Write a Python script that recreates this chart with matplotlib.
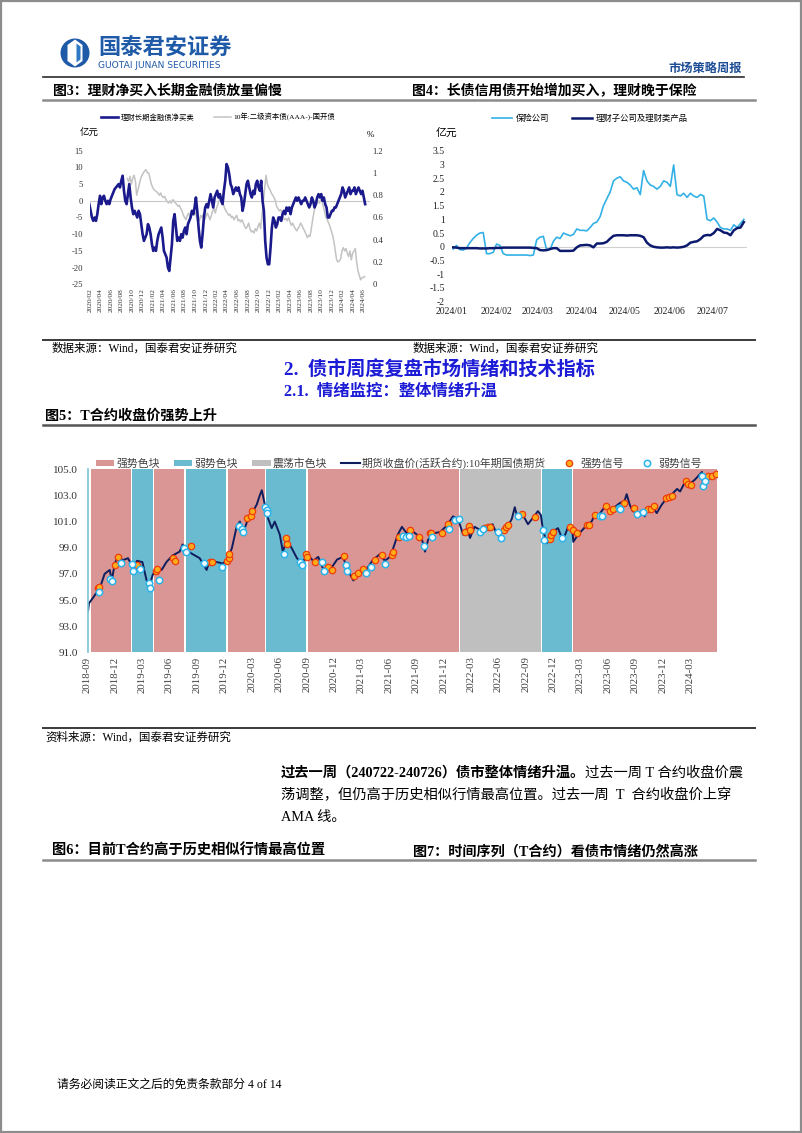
import pandas as pd
import matplotlib
matplotlib.use('Agg')
from matplotlib import pyplot as plt
from matplotlib.patches import Patch, Rectangle, Circle, Polygon
from matplotlib.lines import Line2D
from matplotlib.ticker import FuncFormatter, MultipleLocator

W, H = 802, 1133
SERIF_CJK = ['Liberation Serif', 'Noto Sans CJK SC']
plt.rcParams['font.family'] = SERIF_CJK
plt.rcParams['axes.unicode_minus'] = False

# ---------- fig 3: 理财长期金融债净买卖 (亿元, weekly) / 二级资本债-国开债 (%) ----------
fin_bond_net = [
    -1, -3, -5, -6, -5, -6, -4, -1, 1.5, -1, 1, 1.5, 0, -1, 0, -1, 0.5, 1.5, 2.5, 3.5,
    4, 4.5, 5, 4, 6, 7.5, 3, 0, -1, 2, 5, 1, -2, -4, -3, -4, -5, -3, -4, -7,
    -10, -12, -11, -10, -7, -8, -10, -13, -15, -14, -15, -12, -10, -9, -8, -11, -15, -16, -17, -20,
    -21, -17, -13, -6, -4, -8, -12, -11, -12, -10, -11, -9, -8, -10, -7, -6, -5, -3, -4, -2,
    1, -3, -8, -12, -14, -10, -5, -2, -1, -2, 0, 2, 0, -2, 1, 2, 3, 1, 2, 0,
    -1, 3, 6, 11, 10, 8, 5, 4, 2, 3, 4, 3, 4, 2, 1, -3, -1, 2, 5, 6,
    4, 2, 1, 3, 2, 5, 6, 4, 3, 6, 0, -3, -12, -17, -19, -19, -14, -8, -5, -6,
    -8, -7, -5, -5, -6, -4, -3, -4, -2, -3, -2, -4, -2, -1, 0, 1, 0, 1, 0, -1,
    0, 0, 1, 0, -1, -2, -1, 1, 0, -2, -1, 1, 2, 1, 2, 0, 1, -1, -2, -5,
    -5, -4, -3, -3, -2, -2, -1, 0, 1, 2, 4, 3, 1, 2, 3, 4, 2, 3, 3, 4,
    2, 3, 4, 3, 2, 3, 1, -1,
]
tier2_spread = [
    0.95, 0.92, 0.97, 0.9, 0.95, 0.98, 0.93, 0.8, 0.85, 0.9, 0.95, 0.98, 1.0, 1.02, 1.03, 1.0,
    1.0, 0.95, 0.9, 0.87, 0.85, 0.84, 0.83, 0.82, 0.8, 0.82, 0.79, 0.78, 0.79, 0.76, 0.74, 0.73,
    0.75, 0.73, 0.76, 0.75, 0.73, 0.72, 0.7, 0.71, 0.68, 0.66, 0.62, 0.6, 0.58, 0.62, 0.64, 0.6,
    0.62, 0.66, 0.62, 0.65, 0.6, 0.56, 0.57, 0.62, 0.6, 0.63, 0.58, 0.61, 0.64, 0.61, 0.58, 0.62,
    0.66, 0.68, 0.64, 0.69, 0.72, 0.76, 0.8, 0.77, 0.72, 0.68, 0.66, 0.64, 0.62, 0.63, 0.6, 0.61,
    0.58, 0.6, 0.62, 0.57, 0.58, 0.56, 0.58, 0.55, 0.52, 0.5, 0.52, 0.55, 0.5, 0.47, 0.48, 0.46,
    0.5, 0.48, 0.52, 0.55, 0.5, 0.62, 0.75, 0.85, 0.98, 0.9, 0.87, 0.85, 0.82, 0.8, 0.78, 0.75,
    0.7, 0.68, 0.66, 0.67, 0.64, 0.6, 0.58, 0.59, 0.57, 0.6, 0.56, 0.53, 0.55, 0.52, 0.5, 0.48,
    0.5, 0.52, 0.55, 0.53, 0.5, 0.48, 0.45, 0.42, 0.44, 0.43, 0.5, 0.58, 0.65, 0.7, 0.72, 0.75,
    0.73, 0.76, 0.74, 0.7, 0.65, 0.6, 0.58, 0.55, 0.52, 0.48, 0.44, 0.38, 0.3, 0.22, 0.2, 0.21,
    0.23, 0.3, 0.33, 0.3, 0.32, 0.28, 0.25, 0.3, 0.22, 0.28, 0.3, 0.32, 0.2, 0.12, 0.08, 0.04,
    0.06, 0.06, 0.07,
]
fin_bond_span = ('2020-01-28', '2024-06-10')
tier2_span = ('2020-09-04', '2024-06-07')

# ---------- fig 4: 长债信用债净买入 (亿元) ----------
insurance = [
    -0.08, 0.05, -0.1, -0.12, -0.05, 0.15, 0.3, 0.42, 0.5, 0.52,
    -0.25, -0.25, -0.2, 0.1, 0.05, -0.25, -0.3, -0.3, -0.3, -0.3,
    -0.3, -0.3, -0.3, -0.32, -0.3, 0.25, 0.35, 0.38, -0.12, -0.1,
    0.2, 0.35, 0.3, 0.5, 0.45, 0.4, 0.45, 0.65, 0.6, 0.6,
    0.58, 0.7, 0.85, 0.9, 1.1, 1.5, 1.75, 2.0, 2.4, 2.5,
    2.55, 2.4, 2.35, 2.25, 2.1, 2.15, 1.9,
    2.78, 2.4, 2.25, 2.2, 2.1, 2.2, 2.4, 2.35, 2.2, 2.98,
    1.9, 1.85, 1.95, 1.8, 1.95, 1.85, 1.8, 1.9, 1.85, 1.0,
    0.95, 1.05, 0.9, 0.7, 0.65, 0.65, 0.6, 0.8, 0.7, 0.85, 1.0,
]
wm_products = [
    -0.02, -0.03, -0.05, -0.05, -0.05, -0.05, -0.05, -0.05, -0.06, -0.06,
    -0.06, -0.05, -0.05, -0.04, -0.04, -0.03, -0.03, -0.03, -0.03, -0.03,
    -0.03, -0.03, -0.03, -0.03, -0.04, -0.05, -0.12, -0.13, -0.12, -0.08,
    -0.05, -0.05, -0.15, -0.15, -0.15, -0.15, -0.14, -0.02, 0.05, 0.06,
    0.07, 0.05, -0.02, 0.12, 0.12, 0.13, 0.18, 0.3, 0.4, 0.42,
    0.42, 0.42, 0.41, 0.42, 0.42, 0.42, 0.4,
    0.35, 0.15, 0.05, 0.0, -0.02, -0.03, -0.03, -0.02, -0.03, -0.02,
    -0.03, -0.02, 0.0, 0.05, 0.15, 0.18, 0.2, 0.28, 0.4, 0.43,
    0.42, 0.5, 0.65, 0.6, 0.52, 0.5, 0.42, 0.6, 0.68, 0.7, 0.9,
]
credit_span = ('2024-01-02', '2024-07-23')

# ---------- fig 5: T 合约收盘价 ----------
t_dates = [
    '2018-09-03', '2018-09-06', '2018-10-12', '2018-10-28', '2018-11-14', '2018-11-21', '2018-12-01',
    '2018-12-11', '2018-12-28', '2019-01-14', '2019-01-31', '2019-02-13', '2019-03-03', '2019-03-17',
    '2019-03-27', '2019-04-06', '2019-04-19', '2019-05-06', '2019-05-22', '2019-06-11', '2019-07-05',
    '2019-07-15', '2019-07-28', '2019-08-18', '2019-09-10', '2019-10-03', '2019-10-13', '2019-11-06',
    '2019-11-26', '2019-12-09', '2019-12-26', '2020-01-12', '2020-01-22', '2020-02-01', '2020-02-15',
    '2020-03-01', '2020-03-18', '2020-03-28', '2020-04-04', '2020-04-14', '2020-04-24', '2020-05-07',
    '2020-05-17', '2020-06-03', '2020-06-13', '2020-06-26', '2020-07-13', '2020-07-30', '2020-08-16',
    '2020-09-02', '2020-09-22', '2020-10-09', '2020-10-25', '2020-11-17', '2020-12-11', '2020-12-31',
    '2021-01-13', '2021-02-03', '2021-02-26', '2021-03-20', '2021-04-09', '2021-05-02', '2021-05-19',
    '2021-06-05', '2021-06-15', '2021-07-01', '2021-07-15', '2021-07-31', '2021-08-17', '2021-09-03',
    '2021-09-20', '2021-09-30', '2021-10-10', '2021-10-26', '2021-11-19', '2021-12-12', '2022-01-01',
    '2022-01-18', '2022-02-04', '2022-02-17', '2022-02-27', '2022-03-14', '2022-04-07', '2022-04-27',
    '2022-05-13', '2022-05-26', '2022-06-12', '2022-06-29', '2022-07-16', '2022-07-26', '2022-08-05',
    '2022-08-22', '2022-09-08', '2022-09-25', '2022-10-11', '2022-10-21', '2022-10-28', '2022-11-10',
    '2022-11-20', '2022-12-07', '2022-12-17', '2022-12-30', '2023-01-10', '2023-01-20', '2023-02-03',
    '2023-02-06', '2023-02-22', '2023-03-06', '2023-03-22', '2023-04-08', '2023-04-18', '2023-05-05',
    '2023-05-21', '2023-06-07', '2023-06-24', '2023-07-10', '2023-07-27', '2023-08-03', '2023-08-13',
    '2023-08-23', '2023-09-09', '2023-09-26', '2023-10-02', '2023-10-12', '2023-10-29', '2023-11-11',
    '2023-11-28', '2023-12-15', '2024-01-01', '2024-01-18', '2024-01-28', '2024-02-14', '2024-03-01',
    '2024-03-17', '2024-03-27', '2024-04-10', '2024-04-13', '2024-04-27', '2024-05-13', '2024-05-29',
]
t_close = [
    94.2, 94.75, 95.9, 97.0, 97.3, 96.5, 97.8,
    98.3, 98.05, 98.2, 97.45, 98.0, 97.9, 96.5,
    96.15, 96.9, 97.45, 97.3, 97.9, 98.4, 98.7,
    99.25, 98.8, 98.5, 98.2, 97.3, 98.0, 97.9,
    97.8, 98.0, 98.95, 100.7, 101.0, 100.1, 101.0,
    101.6, 102.3, 103.0, 103.4, 102.3, 101.3, 100.5,
    101.0, 100.0, 98.7, 99.6, 98.95, 98.2, 97.8,
    98.5, 98.0, 98.3, 97.4, 97.3, 98.1, 98.3,
    97.4, 96.5, 97.2, 97.4, 98.05, 98.5, 98.0,
    98.3, 98.9, 100.0, 100.6, 100.1, 100.3, 100.0,
    99.6, 98.7, 99.6, 100.1, 100.2, 100.7, 101.4,
    101.2, 100.0, 100.5, 99.75, 100.6, 100.3, 100.6,
    100.8, 100.1, 100.1, 100.5, 101.2, 102.1, 101.2,
    101.5, 100.8, 101.3, 101.8, 101.5, 100.35, 99.35,
    99.85, 100.35, 100.5, 99.75, 100.0, 100.6, 100.35,
    99.45, 100.0, 100.3, 100.7, 101.0, 101.5, 101.6,
    102.1, 101.85, 102.1, 102.4, 102.6, 103.1, 102.3,
    101.8, 101.7, 101.8, 101.4, 101.9, 102.1, 101.65,
    102.3, 102.8, 103.1, 103.5, 103.3, 104.05, 103.9,
    104.2, 104.45, 104.8, 103.9, 104.45, 104.6, 104.7,
]
strong_dates = [
    '2018-10-06', '2018-10-10', '2018-12-01', '2018-12-12', '2019-02-12', '2019-04-16', '2019-04-20',
    '2019-06-12', '2019-06-20', '2019-08-11', '2019-10-15', '2019-10-22', '2019-12-10', '2019-12-15',
    '2019-12-18', '2020-02-15', '2020-02-29', '2020-03-03', '2020-06-25', '2020-06-26', '2020-08-29',
    '2020-09-01', '2020-09-28', '2020-11-11', '2020-11-24', '2021-01-03', '2021-02-06', '2021-02-17',
    '2021-03-07', '2021-04-15', '2021-05-10', '2021-06-13', '2021-06-15', '2021-07-05', '2021-08-12',
    '2021-09-10', '2021-10-16', '2021-10-21', '2021-11-26', '2021-12-16', '2022-02-11', '2022-02-25',
    '2022-02-27', '2022-04-14', '2022-04-27', '2022-05-06', '2022-06-20', '2022-06-28', '2022-07-03',
    '2022-08-20', '2022-10-01', '2022-11-20', '2022-11-25', '2022-12-01', '2023-01-26', '2023-02-04',
    '2023-02-17', '2023-03-24', '2023-04-01', '2023-04-21', '2023-05-26', '2023-06-09', '2023-06-20',
    '2023-07-26', '2023-08-27', '2023-10-13', '2023-10-22', '2023-11-02', '2023-12-11', '2023-12-21',
    '2024-01-01', '2024-02-17', '2024-02-22', '2024-03-06', '2024-05-01', '2024-05-15', '2024-05-26',
]
strong_vals = [
    95.95, 96.0, 97.7, 98.3, 97.7, 97.2, 97.4,
    98.2, 98.0, 99.15, 97.9, 97.9, 98.0, 98.25,
    98.5, 101.25, 101.4, 101.8, 99.75, 99.25, 98.5,
    98.3, 97.9, 97.5, 97.3, 98.35, 96.85, 97.1,
    97.35, 98.05, 98.45, 98.45, 98.65, 99.85, 100.35,
    99.85, 100.1, 100.15, 100.15, 100.8, 100.2, 100.65,
    100.35, 100.5, 100.6, 100.6, 100.35, 100.6, 100.75,
    101.55, 101.35, 99.7, 99.95, 100.2, 100.55, 100.35,
    100.15, 100.75, 100.75, 101.5, 102.2, 101.8, 101.95,
    102.45, 102.05, 101.95, 102.0, 102.2, 102.8, 102.85,
    102.95, 104.1, 103.9, 103.8, 104.45, 104.5, 104.65,
]
weak_dates = [
    '2018-10-10', '2018-11-14', '2018-11-22', '2018-12-20', '2019-01-26', '2019-01-29', '2019-02-23',
    '2019-03-26', '2019-03-28', '2019-04-27', '2019-07-18', '2019-07-25', '2019-09-24', '2019-11-24',
    '2020-01-19', '2020-01-30', '2020-01-31', '2020-04-14', '2020-04-20', '2020-04-22', '2020-06-16',
    '2020-08-09', '2020-08-15', '2020-10-21', '2020-10-28', '2021-01-10', '2021-01-14', '2021-03-18',
    '2021-04-04', '2021-05-18', '2021-07-18', '2021-07-27', '2021-08-08', '2021-09-26', '2021-10-24',
    '2021-12-20', '2022-01-08', '2022-01-22', '2022-03-31', '2022-04-10', '2022-06-01', '2022-06-10',
    '2022-08-06', '2022-10-27', '2022-11-01', '2022-12-29', '2023-05-05', '2023-05-14', '2023-07-08',
    '2023-07-13', '2023-09-07', '2023-09-25', '2024-04-11', '2024-04-14', '2024-04-20',
]
weak_vals = [
    95.65, 96.6, 96.45, 97.8, 97.75, 97.2, 97.4,
    96.3, 95.9, 96.55, 98.95, 98.65, 97.8, 97.55,
    100.7, 100.45, 100.2, 102.15, 101.9, 101.65, 98.55,
    97.9, 97.7, 97.9, 97.2, 97.7, 97.2, 97.1,
    97.55, 97.75, 99.9, 99.85, 99.9, 99.15, 99.85,
    100.45, 101.1, 101.2, 100.2, 100.45, 100.2, 99.75,
    101.4, 100.35, 99.6, 99.75, 101.4, 101.45, 102.05,
    102.0, 101.55, 101.75, 104.45, 103.75, 104.1,
]
block_kind = ['strong', 'weak', 'strong', 'weak', 'strong', 'weak', 'strong', 'range', 'weak', 'strong']
block_start = ['2018-09-12', '2019-01-28', '2019-04-12', '2019-07-25', '2019-12-13',
               '2020-04-17', '2020-09-04', '2022-01-25', '2022-10-24', '2023-02-06']
block_end = ['2019-01-24', '2019-04-07', '2019-07-21', '2019-12-08', '2020-04-14',
             '2020-08-29', '2022-01-21', '2022-10-20', '2023-02-01', '2024-05-29']
t_ticks = pd.date_range('2018-09-01', '2024-03-01', freq='3MS')
t_yticks = [91, 93, 95, 97, 99, 101, 103, 105]

C_BLOCK = {'strong': '#d99694', 'weak': '#6bbbd0', 'range': '#bfbfbf'}
C_T = '#0f1d5e'
TITLE_BLUE = '#1c1cd6'
LOGO_BLUE = '#1f5aa8'

gfmt = FuncFormatter(lambda v, p: f'{v:g}')

fig = plt.figure(figsize=(W / 100, H / 100), dpi=100)
page = fig.add_axes([0, 0, 1, 1])
page.set_xlim(0, W)
page.set_ylim(H, 0)
page.axis('off')


def box(x0, y0, x1, y1):
    return fig.add_axes([x0 / W, 1 - y1 / H, (x1 - x0) / W, (y1 - y0) / H])


def bare(ax):
    for s in ax.spines.values():
        s.set_visible(False)
    ax.tick_params(length=0)


# ---------- page furniture ----------
page.add_patch(Rectangle((1, 1), W - 2.5, H - 2.5, fill=False, ec='#8c8c8c', lw=1.6))
page.add_patch(Circle((75, 53), 14.5, fc=LOGO_BLUE, ec='none'))
page.add_patch(Polygon([(75, 39.5), (82.5, 45), (82.5, 61), (75, 66.5), (67.5, 61), (67.5, 45)],
                       fc='white', ec='none'))
page.add_patch(Polygon([(76.5, 43.5), (80.5, 46.5), (80.5, 59.5), (76.5, 62.5)], fc='#2f78c4', ec='none'))
page.text(98, 48, '国泰君安证券', fontsize=16, fontweight='bold', color=LOGO_BLUE,
          family=['Noto Sans CJK SC'], va='center', ha='left')
page.text(98, 65, 'GUOTAI JUNAN SECURITIES', fontsize=6.6, color=LOGO_BLUE,
          family=['DejaVu Sans'], va='center', ha='left')
page.text(742, 69, '市场策略周报', fontsize=8.8, fontweight='bold', color='#1f4e96', va='center', ha='right')
page.plot([43, 744], [77, 77], color='#2b2b2b', lw=1.2)

page.text(53, 91, '图3：理财净买入长期金融债放量偏慢', fontsize=10, fontweight='bold', va='center')
page.text(412, 91, '图4：长债信用债开始增加买入，理财晚于保险', fontsize=10, fontweight='bold', va='center')
page.plot([43, 755], [100, 100], color='#8c8c8c', lw=1.8)

page.plot([43, 755], [340, 340], color='#3a3a3a', lw=1.4)
page.text(52, 349, '数据来源：Wind，国泰君安证券研究', fontsize=8.3, va='center')
page.text(413, 349, '数据来源：Wind，国泰君安证券研究', fontsize=8.3, va='center')

page.text(284, 370, '2.  债市周度复盘市场情绪和技术指标', fontsize=13.8, fontweight='bold',
          color=TITLE_BLUE, va='center')
page.text(284, 392, '2.1.  情绪监控：整体情绪升温', fontsize=11.8, fontweight='bold',
          color=TITLE_BLUE, va='center')

page.text(45, 416, '图5：T合约收盘价强势上升', fontsize=10.2, fontweight='bold', va='center')
page.plot([43, 755], [425, 425], color='#555555', lw=1.8)

page.plot([43, 755], [728, 728], color='#3a3a3a', lw=1.4)
page.text(45, 738, '资料来源：Wind，国泰君安证券研究', fontsize=8.3, va='center')

r = fig.canvas.get_renderer()
t1 = page.text(281, 773, '过去一周（240722-240726）债市整体情绪升温。', fontsize=10.3,
               fontweight='bold', va='center')
x_next = t1.get_window_extent(renderer=r).x1
page.text(x_next, 773, '过去一周 T 合约收盘价震', fontsize=10.3, va='center')
page.text(281, 795.5, '荡调整，但仍高于历史相似行情最高位置。过去一周  T  合约收盘价上穿', fontsize=10.3, va='center')
page.text(281, 818, 'AMA 线。', fontsize=10.3, va='center')

page.text(52, 851, '图6：目前T合约高于历史相似行情最高位置', fontsize=10.3, fontweight='bold', va='center')
page.text(413, 851, '图7：时间序列（T合约）看债市情绪仍然高涨', fontsize=10.2, fontweight='bold', va='center')
page.plot([43, 755], [860, 860], color='#8c8c8c', lw=1.8)

page.text(57, 1085, '请务必阅读正文之后的免责条款部分 4 of 14', fontsize=8.5, va='center')

# ---------- fig 3 ----------
ax3 = box(90, 150.7, 370, 284.3)
ax3r = ax3.twinx()
ax3.set_zorder(ax3r.get_zorder() + 1)
ax3.patch.set_visible(False)
d_fin = pd.date_range(*fin_bond_span, periods=len(fin_bond_net))
d_t2 = pd.date_range(*tier2_span, periods=len(tier2_spread))
ax3.axhline(0, color='#c8c8c8', lw=0.8, zorder=1)
l_fin, = ax3.plot(d_fin, fin_bond_net, color='#1a1a8c', lw=1.9, zorder=3)
l_t2, = ax3r.plot(d_t2, tier2_spread, color='#c3c3c3', lw=1.1)
ax3.set_ylim(-25, 15)
ax3.yaxis.set_major_locator(MultipleLocator(5))
ax3r.set_ylim(0, 1.2)
ax3r.yaxis.set_major_locator(MultipleLocator(0.2))
ax3r.yaxis.set_major_formatter(gfmt)
ax3.set_xlim(pd.Timestamp('2020-02-01'), pd.Timestamp('2024-07-08'))
ticks3 = pd.date_range('2020-02-01', '2024-06-01', freq='2MS')
ax3.set_xticks(ticks3)
ax3.set_xticklabels([d.strftime('%Y/%m') for d in ticks3], rotation=90, fontsize=5.3, color='#333333')
for a in (ax3, ax3r):
    bare(a)
ax3.tick_params(axis='y', labelsize=6.2, colors='#333333', pad=5)
ax3.tick_params(axis='x', pad=2.5)
ax3r.tick_params(axis='y', labelsize=6.2, colors='#333333', pad=2)
ax3.legend([l_fin, l_t2], ['理财长期金融债净买卖', '10年:二级资本债(AAA-)-国开债'],
           loc='center', bbox_to_anchor=(218 / W, 1 - 117 / H), bbox_transform=fig.transFigure,
           ncol=2, frameon=False, fontsize=5.3, handlelength=2.4, handletextpad=0.3, columnspacing=2.6)
page.text(80, 133, '亿元', fontsize=6.8, va='center')
page.text(367, 135, '%', fontsize=6.5, va='center')

# ---------- fig 4 ----------
ax4 = box(451.7, 150.7, 746.7, 301.7)
d_credit = pd.date_range(*credit_span, periods=len(insurance))
ax4.axhline(0, color='#d0d0d0', lw=0.8)
l_ins, = ax4.plot(d_credit, insurance, color='#33b1e6', lw=1.2)
l_wm, = ax4.plot(pd.date_range(*credit_span, periods=len(wm_products)), wm_products, color='#0c1a6e', lw=1.8)
ax4.set_ylim(-2, 3.5)
ax4.yaxis.set_major_locator(MultipleLocator(0.5))
ax4.yaxis.set_major_formatter(gfmt)
ax4.set_xlim(pd.Timestamp('2024-01-01'), pd.Timestamp('2024-07-25'))
ticks4 = pd.date_range('2024-01-01', '2024-07-01', freq='MS')
ax4.set_xticks(ticks4)
ax4.set_xticklabels([d.strftime('%Y/%m') for d in ticks4], fontsize=7, color='#222222')
bare(ax4)
ax4.tick_params(axis='y', labelsize=7, colors='#222222', pad=5)
ax4.tick_params(axis='x', pad=4)
ax4.legend([l_ins, l_wm], ['保险公司', '理财子公司及理财类产品'],
           loc='center', bbox_to_anchor=(590 / W, 1 - 119 / H), bbox_transform=fig.transFigure,
           ncol=2, frameon=False, fontsize=6, handlelength=2.4, handletextpad=0.4, columnspacing=2.8)
page.text(436, 133, '亿元', fontsize=7.8, va='center')

# ---------- fig 5 ----------
ax5 = box(87.5, 469.3, 716.7, 652.3)
for s, e, k in zip(block_start, block_end, block_kind):
    ax5.axvspan(pd.Timestamp(s), pd.Timestamp(e), color=C_BLOCK[k], lw=0, zorder=0)
ax5.plot(pd.to_datetime(t_dates), t_close, color=C_T, lw=1.4, zorder=2)
ax5.plot(pd.to_datetime(strong_dates), strong_vals, ls='none', marker='o', ms=4.6,
         mfc='#ffab1a', mec='#f03c0a', mew=0.9, zorder=3)
ax5.plot(pd.to_datetime(weak_dates), weak_vals, ls='none', marker='o', ms=4.6,
         mfc='#f2fbff', mec='#2cb3ea', mew=1.1, zorder=3)
ax5.set_ylim(91, 105)
ax5.set_yticks(t_yticks)
ax5.yaxis.set_major_formatter(FuncFormatter(lambda v, p: f'{v:.1f}'))
ax5.set_xlim(pd.Timestamp('2018-09-01'), pd.Timestamp('2024-05-29'))
ax5.set_xticks(t_ticks)
ax5.set_xticklabels([d.strftime('%Y-%m') for d in t_ticks], rotation=90, fontsize=7.8, color='#404040')
bare(ax5)
ax5.spines['left'].set_visible(True)
ax5.spines['left'].set_color('#7cc4d8')
ax5.spines['left'].set_linewidth(1.2)
ax5.tick_params(axis='y', labelsize=8, colors='#333333', pad=7)
ax5.tick_params(axis='x', pad=3)
h5 = [Patch(fc=C_BLOCK['strong']), Patch(fc=C_BLOCK['weak']), Patch(fc=C_BLOCK['range']),
      Line2D([], [], color=C_T, lw=1.5),
      Line2D([], [], ls='none', marker='o', ms=4.6, mfc='#ffab1a', mec='#f03c0a', mew=0.9),
      Line2D([], [], ls='none', marker='o', ms=4.6, mfc='#f2fbff', mec='#2cb3ea', mew=1.1)]
ax5.legend(h5, ['强势色块', '弱势色块', '震荡市色块', '期货收盘价(活跃合约):10年期国债期货', '强势信号', '弱势信号'],
           loc='center', bbox_to_anchor=(399 / W, 1 - 463 / H), bbox_transform=fig.transFigure,
           ncol=6, frameon=False, fontsize=7.8, handlelength=1.7, handleheight=0.5,
           handletextpad=0.2, columnspacing=1.3, labelcolor='#404040')

fig.savefig('out.png', dpi=100)
